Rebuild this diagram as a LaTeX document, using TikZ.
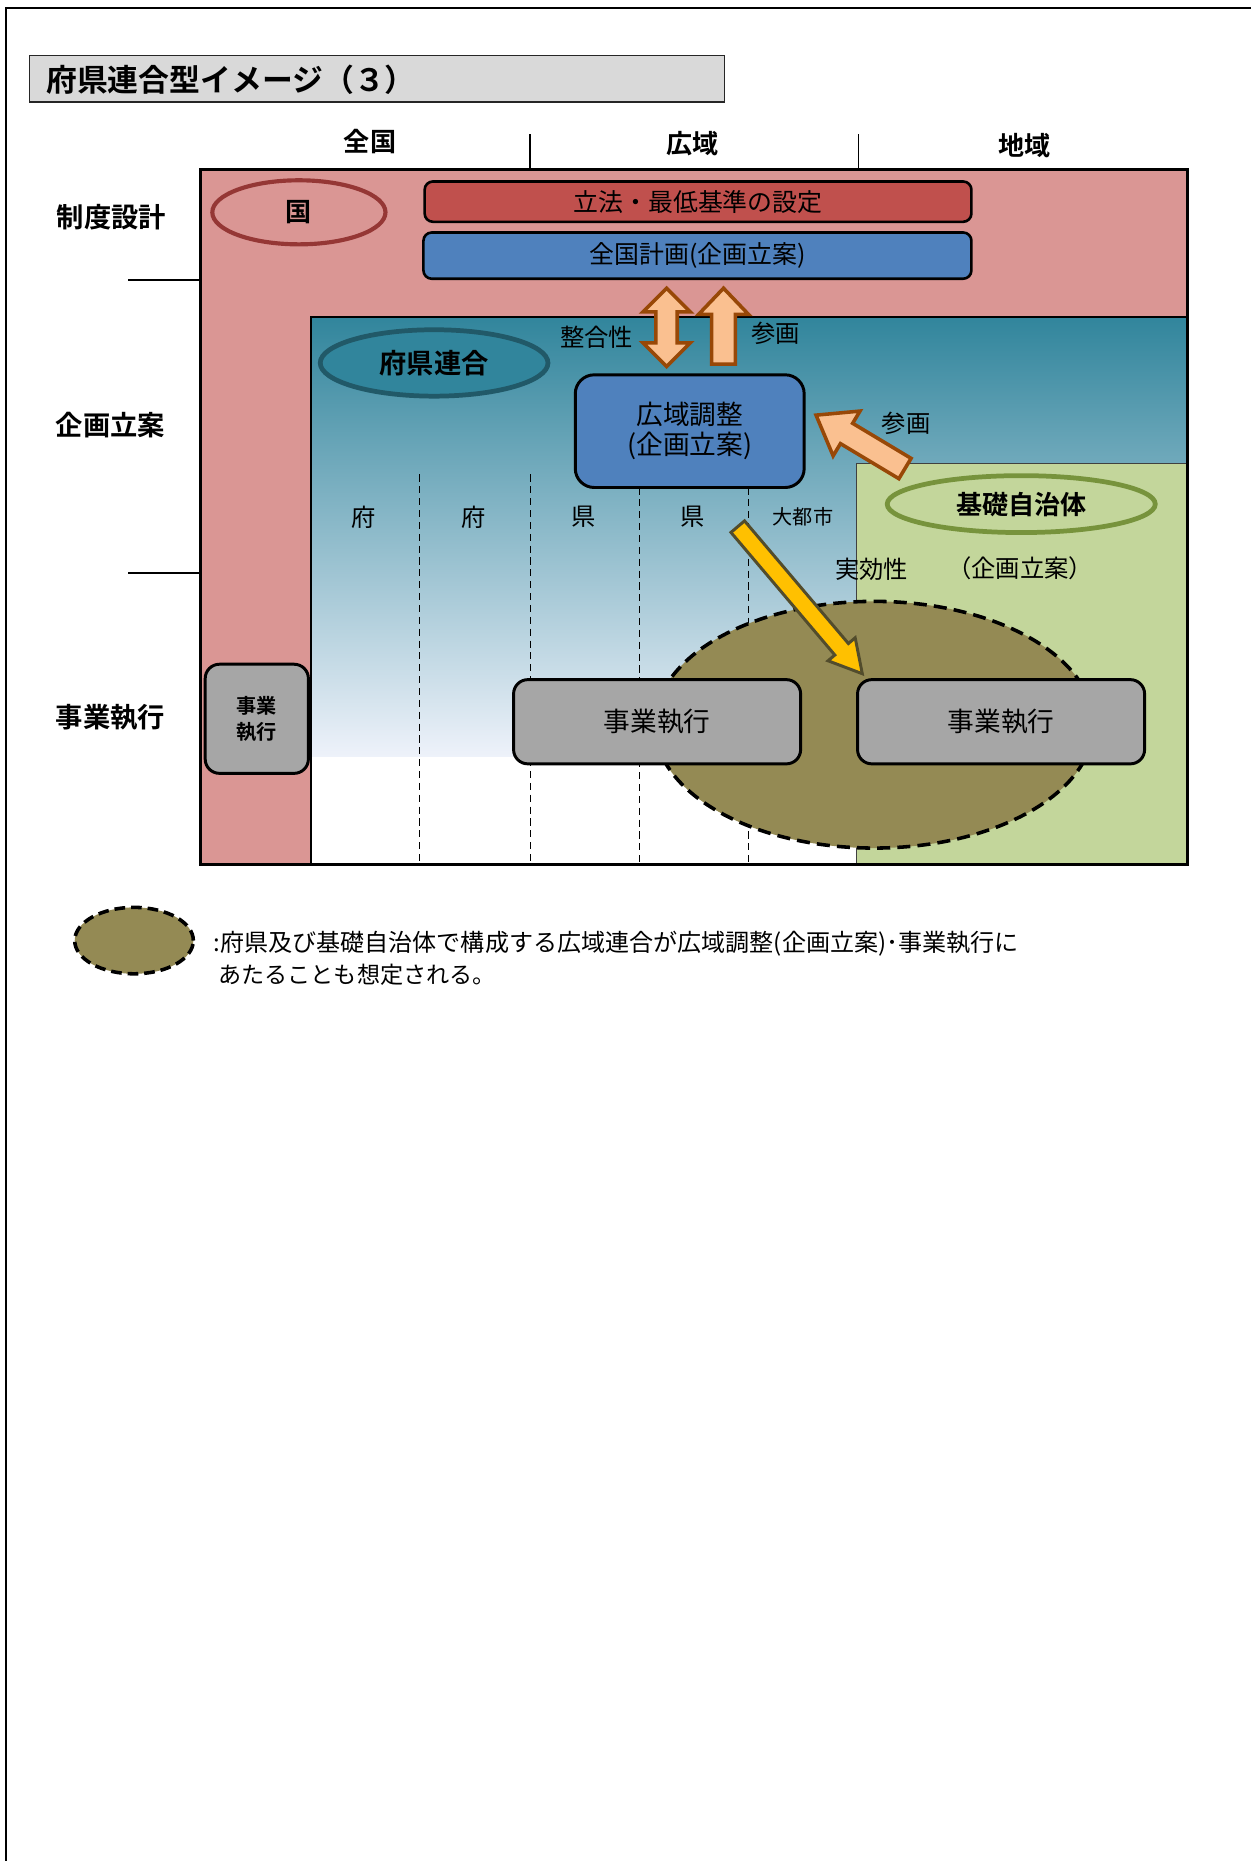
\documentclass[tikz,border=0pt]{standalone}
\usepackage{fontspec}
\setmainfont{Noto Sans CJK JP}[BoldFont={Noto Sans CJK JP Bold}]
\usetikzlibrary{shapes.geometric,calc}
\definecolor{pinkbg}{HTML}{DA9694}
\definecolor{redbox}{HTML}{C0504D}
\definecolor{bluebox}{HTML}{4F81BD}
\definecolor{kunired}{HTML}{953735}
\definecolor{tealA}{HTML}{31859C}
\definecolor{tealB}{HTML}{8DBBC9}
\definecolor{tealC}{HTML}{EEF2FA}
\definecolor{tealdark}{HTML}{215968}
\definecolor{greenbg}{HTML}{C3D69B}
\definecolor{greenedge}{HTML}{77933C}
\definecolor{olivefill}{HTML}{948A54}
\definecolor{grayb}{HTML}{A6A6A6}
\definecolor{orfill}{HTML}{FAC090}
\definecolor{oredge}{HTML}{984807}
\definecolor{yelfill}{HTML}{FFC000}
\definecolor{yeledge}{HTML}{524C2C}
\definecolor{titlegray}{HTML}{D9D9D9}
\newcommand\jfs[1]{\fontsize{#1}{#1}\selectfont}
\newcommand\fatarr[6]{%
 \coordinate (fab) at ($(#2)!#5!(#1)$);
 \draw[#6] ($(#1)!#3!90:(#2)$) -- ($(fab)!#3!90:(#2)$) -- ($(fab)!#4!90:(#2)$) -- (#2) -- ($(fab)!#4!-90:(#2)$) -- ($(fab)!#3!-90:(#2)$) -- ($(#1)!#3!-90:(#2)$) -- cycle;}
\newcommand\dblarr[6]{%
 \coordinate (dbA) at ($(#1)!#5!(#2)$);
 \coordinate (dbB) at ($(#2)!#5!(#1)$);
 \draw[#6] (#1) -- ($(dbA)!#4!90:(#2)$) -- ($(dbA)!#3!90:(#2)$) -- ($(dbB)!#3!90:(#2)$) -- ($(dbB)!#4!90:(#2)$) -- (#2) -- ($(dbB)!#4!-90:(#2)$) -- ($(dbB)!#3!-90:(#2)$) -- ($(dbA)!#3!-90:(#2)$) -- ($(dbA)!#4!-90:(#2)$) -- cycle;}
\begin{document}
\begin{tikzpicture}[x=1pt,y=-1pt,
  every node/.style={inner sep=0pt, outer sep=0pt},
  hdr/.style={font=\bfseries\jfs{22}},
  rowl/.style={font=\bfseries\jfs{23}},
  lbl/.style={font=\jfs{20.5}},
  rbox/.style={draw=black, line width=2.2, rounded corners=7},
  gbox/.style={draw=black, line width=2.5, rounded corners=12, fill=grayb},
  ell/.style={ellipse, inner sep=0pt},
  oarr/.style={fill=orfill, draw=oredge, line width=3, miter limit=10},
  dline/.style={line width=1, dash pattern=on 6pt off 4pt}
  ]
\useasboundingbox (0,0) rectangle (1055,1569);
\fill[white] (0,0) rectangle (1055,1569);
% page frame
\draw[line width=1.5] (5,1569) -- (5,7) -- (1055,7);
% title
\node[draw=black!85, line width=1.2, fill=titlegray, minimum width=586, minimum height=39, anchor=north west] (title) at (25,47) {};
\node[anchor=west, font=\bfseries\jfs{26}] (titletxt) at (39,67) {府県連合型イメージ（３）};
% headers
\node[hdr] (h1) at (312,119) {全国};
\node[hdr] (h2) at (584,121) {広域};
\node[hdr] (h3) at (864,123) {地域};
\draw[line width=1.2] (447,113) -- (447,143);
\draw[line width=1.2] (724,113) -- (724,143);
\node[rowl] (r1) at (94,183) {制度設計};
\node[rowl] (r2) at (93,358) {企画立案};
\node[rowl] (r3) at (93,605) {事業執行};
\draw[line width=1.5] (108,236) -- (169,236);
\draw[line width=1.5] (108,483) -- (169,483);
% main pink
\fill[pinkbg] (169,143) rectangle (1001,729);
\node[rbox, fill=redbox, minimum width=461, minimum height=34, font=\jfs{21}] (law) at (588.5,170) {立法・最低基準の設定};
\node[rbox, fill=bluebox, minimum width=462, minimum height=39, font=\jfs{21}] (plan) at (588,215.5) {全国計画(企画立案)};
\node[ell, draw=kunired, line width=3.5, minimum width=146, minimum height=54, font=\bfseries\jfs{22}] (kuni) at (252,179) {国};
% teal area
\shade[top color=tealA, middle color=tealB, bottom color=tealC] (262,267) rectangle (1001,638);
\fill[white] (262,638) rectangle (1001,729);
\draw[line width=1.5] (1001,267) -- (262,267) -- (262,729);
% green area
\fill[greenbg] (722,391) rectangle (1001,729);
\draw[line width=1, black!75] (1001,391) -- (722,391) -- (722,729);
\node[ell, fill=tealA, draw=tealdark, line width=4, minimum width=192, minimum height=56, font=\bfseries\jfs{23}] (fuken) at (366,306) {府県連合};
\node[ell, fill=greenbg, draw=greenedge, line width=4, minimum width=226, minimum height=48, font=\bfseries\jfs{22}] (kiso) at (861,425) {基礎自治体};
% dashed column lines
\draw[dline] (354,400) -- (354,729);
\draw[dline] (447,400) -- (447,729);
\draw[dline] (539,411) -- (539,729);
\draw[dline] (631,411) -- (631,729);
\node[lbl] (c1) at (307,436) {府};
\node[lbl] (c2) at (399,436) {府};
\node[lbl] (c3) at (492,436) {県};
\node[lbl] (c4) at (584,436) {県};
\node[font=\jfs{17}] (c5) at (677,436) {大都市};
% union ellipse
\node[ell, fill=olivefill, draw=black, line width=3, dash pattern=on 11pt off 6pt, minimum width=370, minimum height=208] (union) at (737,611) {};
% yellow arrow
\coordinate (ya) at (622,444);
\coordinate (yb) at (727,568);
\fatarr{ya}{yb}{7.5pt}{15pt}{27pt}{fill=yelfill, draw=yeledge, line width=2.5, miter limit=10}
% gray boxes
\node[gbox, minimum width=87, minimum height=92, align=center, font=\bfseries\jfs{17}] (jg1) at (216.5,606) {事業\\[5pt]執行};
\node[gbox, minimum width=242, minimum height=71, font=\jfs{22.5}] (jg2) at (554,608.5) {事業執行};
\node[gbox, minimum width=242, minimum height=71, font=\jfs{22.5}] (jg3) at (844,608.5) {事業執行};
% wide-area coordination box
\node[draw=black, line width=2.5, rounded corners=16, fill=bluebox, minimum width=193, minimum height=95, align=center, font=\jfs{22.5}] (koiki) at (581.5,363.5) {広域調整\\[3pt](企画立案)};
% orange arrows
\coordinate (da1) at (562,243);
\coordinate (da2) at (562,309);
\dblarr{da1}{da2}{9pt}{20pt}{20pt}{oarr}
\coordinate (ua1) at (610,307);
\coordinate (ua2) at (610,243);
\fatarr{ua1}{ua2}{10pt}{21pt}{22pt}{oarr}
\coordinate (sa1) at (763,395);
\coordinate (sa2) at (688,350);
\fatarr{sa1}{sa2}{10pt}{22pt}{30pt}{oarr}
% labels
\node[lbl] (l1) at (503,284) {整合性};
\node[lbl] (l2) at (654,281) {参画};
\node[lbl] (l3) at (764,357) {参画};
\node[lbl] (l4) at (735,480) {実効性};
\node[lbl] (l5) at (860,479) {（企画立案）};
% main border
\draw[line width=2.5] (169,143) rectangle (1001,729);
% legend
\node[ell, fill=olivefill, draw=black, line width=3, dash pattern=on 9pt off 5pt, minimum width=100, minimum height=56] (leg) at (113,793) {};
\node[anchor=west, font=\jfs{20.3}] (legt1) at (180,796) {:府県及び基礎自治体で構成する広域連合が広域調整(企画立案)･事業執行に};
\node[anchor=west, font=\jfs{19.5}] (legt2) at (184,822) {あたることも想定される。};
\end{tikzpicture}
\end{document}
